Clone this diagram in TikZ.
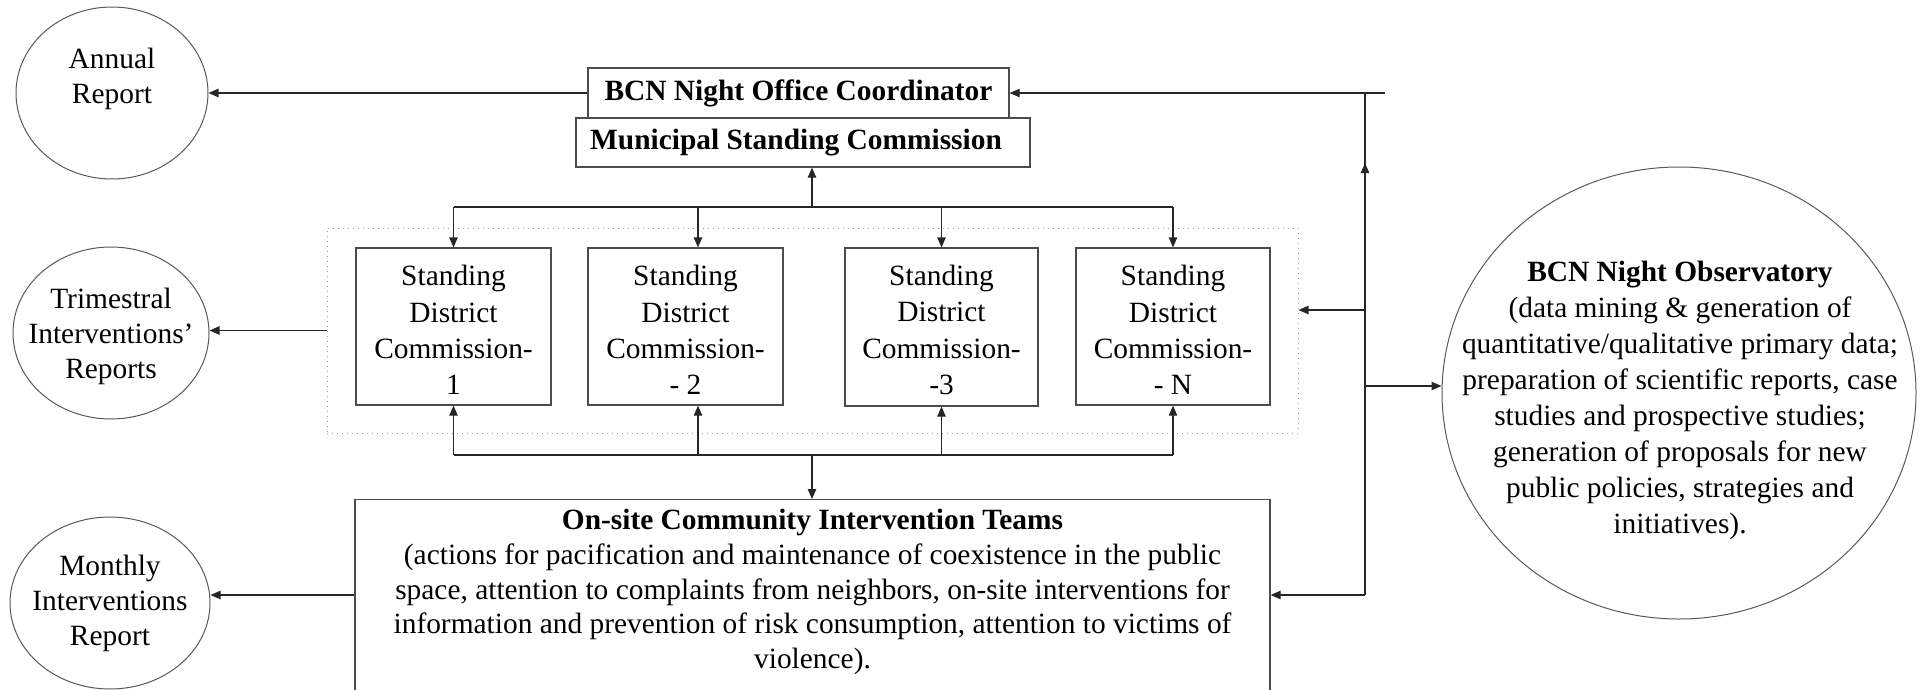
\documentclass[tikz,border=0pt]{standalone}
\usepackage{fontspec}
\setmainfont{Liberation Serif}
\usetikzlibrary{arrows.meta,shapes.geometric}

\begin{document}
\begin{tikzpicture}[x=0.5pt,y=-0.5pt,
  ln/.style={draw=black!85,line width=0.6pt},
  arr/.style={ln,-{Triangle[length=5pt,width=4.2pt]}},
  box/.style={draw=black!70,line width=0.6pt,rectangle,inner sep=0pt},
  oval/.style={draw=black!65,line width=0.5pt,ellipse,inner sep=0pt},
  group/.style={draw=black!40,line width=0.5pt,dotted,rectangle,inner sep=0pt},
  txt/.style={align=center,inner sep=0pt,font=\fontsize{14.7}{17.5}\selectfont},
  stxt/.style={align=center,inner sep=0pt,font=\fontsize{14.7}{18.2}\selectfont},
]
\useasboundingbox (0,0) rectangle (1921,690);
\clip (0,0) rectangle (1921,690);

% report ellipses on the left
\node[oval,minimum width=96pt,minimum height=86pt] (annual) at (112,93) {};
\node[txt] (annualtxt) at (112,79) {Annual\\Report};
\node[oval,minimum width=98pt,minimum height=86pt] (trim) at (111,333) {};
\node[txt] (trimtxt) at (111,336) {Trimestral\\Interventions'\\Reports};
\node[oval,minimum width=100pt,minimum height=86pt] (monthly) at (110,603) {};
\node[txt] (monthlytxt) at (110,603) {Monthly\\Interventions\\Report};

% coordination boxes
\node[box,minimum width=210.5pt,minimum height=25pt] (bcn) at (798.5,93) {};
\node[txt,font=\fontsize{14.7}{17.5}\selectfont\bfseries] (bcntxt) at (798.5,93) {BCN Night Office Coordinator};
\node[box,minimum width=227pt,minimum height=24.5pt] (msc) at (803,142.5) {};
\node[txt,font=\fontsize{14.7}{17.5}\selectfont\bfseries] (msctxt) at (796,142.5) {Municipal Standing Commission};

% district commissions inside the dotted group
\node[group,minimum width=485.5pt,minimum height=102.5pt] (grp) at (812.5,330.5) {};
\node[box,minimum width=97.5pt,minimum height=78.5pt] (sdc1) at (453.5,326.5) {};
\node[box,minimum width=97.5pt,minimum height=78.5pt] (sdc2) at (685.5,326.5) {};
\node[box,minimum width=96.5pt,minimum height=79pt] (sdc3) at (941.5,327) {};
\node[box,minimum width=97pt,minimum height=78.5pt] (sdcn) at (1173,326.5) {};
\node[stxt] (sdc1txt) at (453.5,330) {Standing\\District\\Commission-\\1};
\node[stxt] (sdc2txt) at (685.5,330) {Standing\\District\\Commission-\\- 2};
\node[stxt] (sdc3txt) at (941.5,330) {Standing\\District\\Commission-\\-3};
\node[stxt] (sdcntxt) at (1173,330) {Standing\\District\\Commission-\\- N};

% community teams box (runs past the lower edge)
\node[box,minimum width=457.5pt,minimum height=110pt,anchor=north] (onsite) at (812.5,499) {};
\node[txt,font=\fontsize{14.7}{17.3}\selectfont] (onsitetxt) at (812.5,592)
  {\textbf{On-site Community Intervention Teams}\\
   (actions for pacification and maintenance of coexistence in the public\\
   space, attention to complaints from neighbors, on-site interventions for\\
   information and prevention of risk consumption, attention to victims of\\
   violence).};

% observatory
\node[oval,minimum width=237pt,minimum height=226pt] (obs) at (1679,393) {};
\node[stxt,font=\fontsize{14.7}{18}\selectfont] (obstxt) at (1680,400)
  {\textbf{BCN Night Observatory}\\
   (data mining \& generation of\\
   quantitative/qualitative primary data;\\
   preparation of scientific reports, case\\
   studies and prospective studies;\\
   generation of proposals for new\\
   public policies, strategies and\\
   initiatives).};

% junction points
\coordinate (top) at (812,207);
\coordinate (bot) at (812,455);
\coordinate (d2) at (698,207);
\coordinate (u2) at (698,455);
\coordinate (busA) at (1385,93);
\coordinate (busT) at (1365,93);
\coordinate (busB) at (1365,595);
\coordinate (busUp) at (1365,163);
\coordinate (rowG) at (1365,310);
\coordinate (rowO) at (1365,386);

% reports
\draw[arr] (bcn.west) -- (annual.east |- bcn.west);
\draw[arr] (grp.west) -- (trim.east |- grp.west);
\draw[arr] (onsite.west |- busB) -- (monthly.east |- busB);

% distribution to district commissions
\draw[arr] (top) -- (msc.south -| top);
\draw[ln] (sdc1.north |- top) -- (sdcn.north |- top);
\draw[arr] (sdc1.north |- top) -- (sdc1.north);
\draw[arr] (d2) -- (d2 |- sdc2.north);
\draw[arr] (sdc3.north |- top) -- (sdc3.north);
\draw[arr] (sdcn.north |- top) -- (sdcn.north);

% collection from district commissions
\draw[ln] (sdc1.south |- bot) -- (sdcn.south |- bot);
\draw[arr] (sdc1.south |- bot) -- (sdc1.south);
\draw[arr] (u2) -- (u2 |- sdc2.south);
\draw[arr] (sdc3.south |- bot) -- (sdc3.south);
\draw[arr] (sdcn.south |- bot) -- (sdcn.south);
\draw[arr] (bot) -- (onsite.north -| bot);

% right-hand bus
\draw[arr] (busA) -- (bcn.east |- busA);
\draw[ln] (busT) -- (busB);
\draw[arr] (busB) -- (onsite.east |- busB);
\draw[arr] (1365,230) -- (busUp);
\draw[arr] (rowG) -- (grp.east |- rowG);
\draw[arr] (rowO) -- (obs.west |- rowO);
\end{tikzpicture}
\end{document}
